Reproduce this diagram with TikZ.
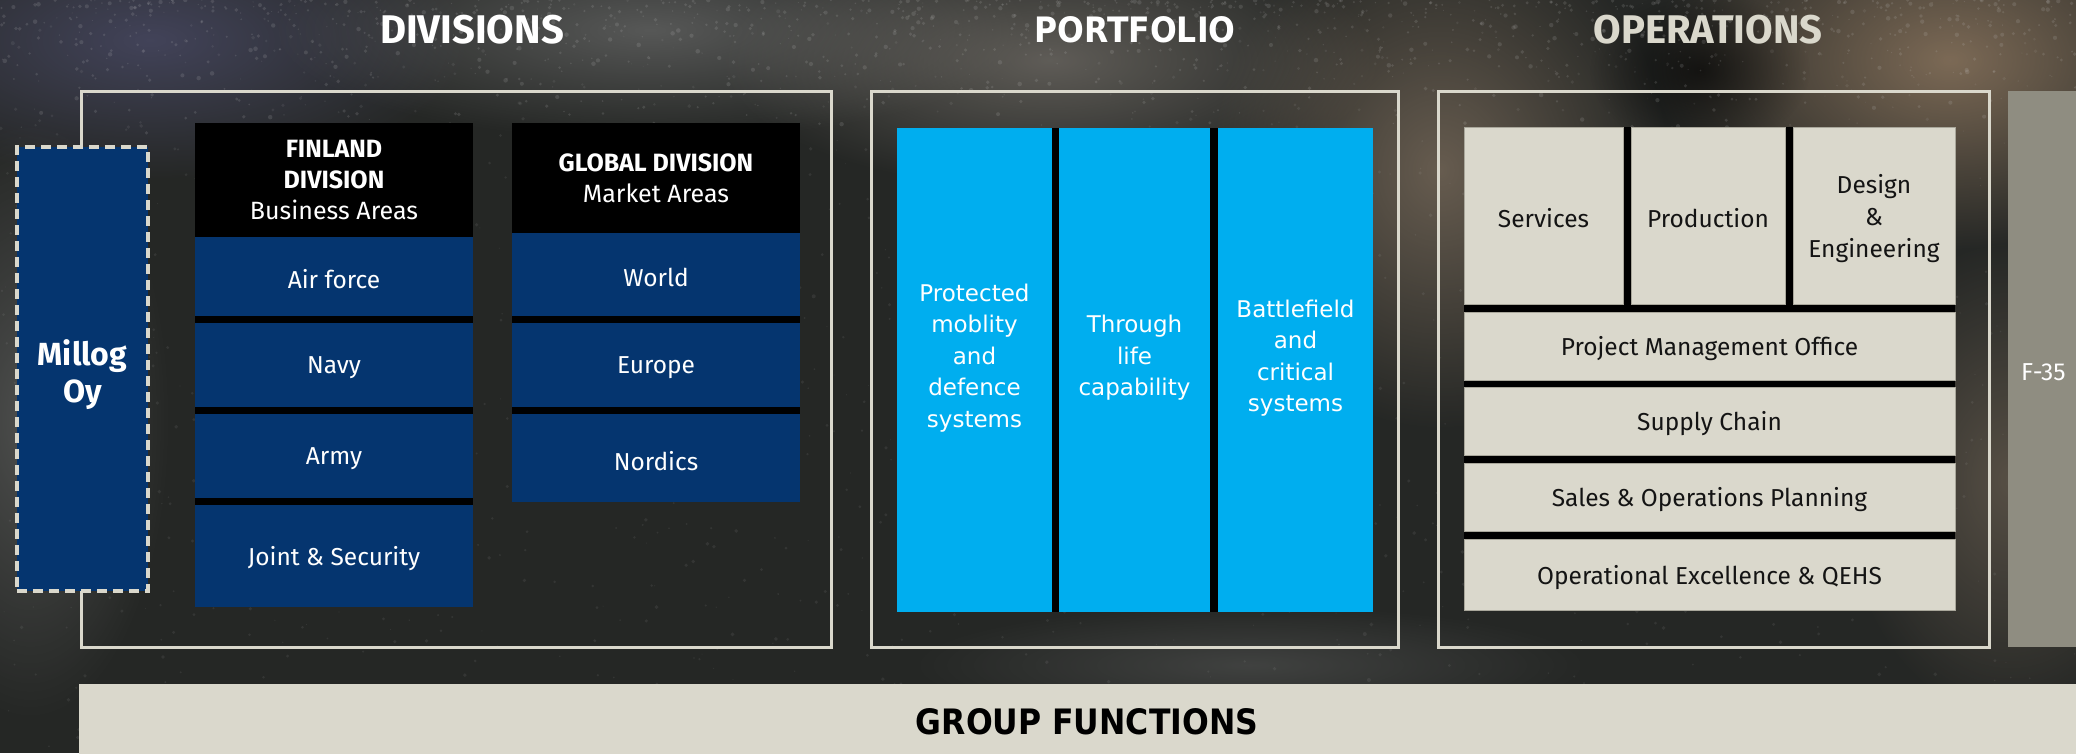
\documentclass[tikz,border=0pt]{standalone}
\usepackage{fontspec}
\setmainfont{Fira Sans}
\newfontfamily\widefont{DejaVu Sans}
\newfontfamily\widetitle{DejaVu Sans}[FakeStretch=0.9]
\usetikzlibrary{fit, fadings}

\definecolor{millogblue}{HTML}{05356F}
\definecolor{skyblue}{HTML}{00AEEF}
\definecolor{sand}{HTML}{DAD8CC}
\definecolor{sandedge}{HTML}{A9A79B}
\definecolor{stone}{HTML}{8F8D81}
\definecolor{rock}{HTML}{252725}
\definecolor{ink}{HTML}{141414}

\tikzfading[name=rockglow, inner color=transparent!0, outer color=transparent!100]

\begin{document}
\begin{tikzpicture}[x=1pt, y=-1pt,
  every node/.style = {inner sep=0pt, outer sep=0pt, align=center},
  title/.style = {font=\bfseries\fontsize{40}{40}\selectfont},
  widehead/.style = {font=\widetitle\bfseries\fontsize{35}{35}\selectfont},
  frame/.style = {draw=sand, line width=3pt},
  backdrop/.style = {fill=black},
  header/.style = {text=white, font=\fontsize{25}{31}\selectfont},
  bluecell/.style = {fill=millogblue},
  bluetext/.style = {yshift=-3pt, text=white, font=\fontsize{24.5}{31}\selectfont},
  skycell/.style = {fill=skyblue},
  skytext/.style = {text=white, font=\widefont\fontsize{23}{31.5}\selectfont},
  sandcell/.style = {fill=sand, draw=sandedge, line width=0.8pt},
  sandtext/.style = {yshift=-3pt, text=ink, font=\fontsize{24.5}{32}\selectfont},
  glow/.style = {fill=#1, path fading=rockglow}]

  \clip (0,0) rectangle (2076,753);

  % rock background
  \fill[rock] (0,0) rectangle (2076,753);
  \fill[glow=gray!80!blue, opacity=.45] (150,40) ellipse [x radius=320, y radius=140];
  \fill[glow=gray, opacity=.55] (650,30) ellipse [x radius=380, y radius=110];
  \fill[glow=gray!90!brown, opacity=.6] (1050,60) ellipse [x radius=330, y radius=130];
  \fill[glow=gray!70!brown, opacity=.6] (1440,170) ellipse [x radius=230, y radius=260];
  \fill[glow=gray!60!brown, opacity=.75] (1950,60) ellipse [x radius=300, y radius=190];
  \fill[glow=gray, opacity=.45] (30,420) ellipse [x radius=140, y radius=300];
  \fill[glow=gray!70!brown, opacity=.45] (2010,480) ellipse [x radius=170, y radius=240];
  \fill[glow=gray, opacity=.3] (1250,665) ellipse [x radius=340, y radius=60];
  \fill[glow=black, opacity=.6] (1700,70) ellipse [x radius=110, y radius=80];

  % grit
  \pgfmathsetseed{42}
  \foreach \k in {1,...,1400}{
    \pgfmathsetmacro{\px}{rnd*2076}
    \pgfmathsetmacro{\py}{rnd*753}
    \pgfmathsetmacro{\pr}{0.5+rnd*1.5}
    \fill[gray!40!white, opacity=.09] (\px,\py) circle [radius=\pr];
  }
  \foreach \k in {1,...,1200}{
    \pgfmathsetmacro{\px}{rnd*2076}
    \pgfmathsetmacro{\py}{rnd*rnd*170}
    \pgfmathsetmacro{\pr}{0.5+rnd*1.8}
    \fill[gray!40!white, opacity=.15] (\px,\py) circle [radius=\pr];
  }

  % column titles
  \node[title, text=white] (divtitle) at (472,30) {DIVISIONS};
  \node[widehead, text=white] (porttitle) at (1135,30) {PORTFOLIO};
  \node[title, text=sand] (optitle) at (1708,30) {OPERATIONS};

  % outer frames
  \node[frame, fit={(81,91) (831,647)}] (divframe) {};
  \node[frame, fit={(871,91) (1398,647)}] (portframe) {};
  \node[frame, fit={(1438,91) (1989,647)}] (opframe) {};

  % Millog Oy
  \node[fit={(17,147) (148,591)}, fill=millogblue, draw=sand, line width=4pt,
    dash pattern=on 10pt off 6pt,
    label={[yshift=-6pt, text=white, font=\bfseries\fontsize{32}{37}\selectfont]center:Millog\\Oy}] (millog) {};

  % Finland division
  \node[backdrop, fit={(195,123) (473,607)}] (finback) {};
  \node[fit={(195,123) (473,237)},
    label={[header]center:{\bfseries FINLAND}\\{\bfseries DIVISION}\\Business Areas}] (finhead) {};
  \node[bluecell, fit={(195,237) (473,316)}, label={[bluetext]center:Air force}] (airforce) {};
  \node[bluecell, fit={(195,323) (473,407)}, label={[bluetext]center:Navy}] (navy) {};
  \node[bluecell, fit={(195,414) (473,498)}, label={[bluetext]center:Army}] (army) {};
  \node[bluecell, fit={(195,505) (473,607)}, label={[bluetext]center:Joint \& Security}] (joint) {};

  % Global division
  \node[backdrop, fit={(512,123) (800,502)}] (globback) {};
  \node[fit={(512,123) (800,233)},
    label={[header]center:{\bfseries GLOBAL DIVISION}\\Market Areas}] (globhead) {};
  \node[bluecell, fit={(512,233) (800,316)}, label={[bluetext]center:World}] (world) {};
  \node[bluecell, fit={(512,323) (800,407)}, label={[bluetext]center:Europe}] (europe) {};
  \node[bluecell, fit={(512,414) (800,502)}, label={[bluetext]center:Nordics}] (nordics) {};

  % portfolio
  \node[backdrop, fit={(897,128) (1373,612)}] (portback) {};
  \node[skycell, fit={(897,128) (1052,612)}] (protected) {};
  \node[skycell, fit={(1059,128) (1210,612)}] (throughlife) {};
  \node[skycell, fit={(1218,128) (1373,612)}] (battlefield) {};
  \node[skytext] at ([yshift=12pt]protected.center)
    {Protected\\moblity\\and\\defence\\systems};
  \node[skytext] at ([yshift=12pt]throughlife.center)
    {Through\\life\\capability};
  \node[skytext] at ([yshift=12pt]battlefield.center)
    {Battlefield\\and\\critical\\systems};

  % operations
  \node[backdrop, fit={(1464,127) (1955,610)}] (opback) {};
  \node[sandcell, fit={(1464,127) (1623,304)}, label={[sandtext]center:Services}] (services) {};
  \node[sandcell, fit={(1631,127) (1785,304)}, label={[sandtext]center:Production}] (production) {};
  \node[sandcell, fit={(1793,127) (1955,304)}, label={[sandtext]center:Design\\\&\\Engineering}] (design) {};
  \node[sandcell, fit={(1464,312) (1955,380)}, label={[sandtext]center:Project Management Office}] (pmo) {};
  \node[sandcell, fit={(1464,387) (1955,455)}, label={[sandtext]center:Supply Chain}] (supply) {};
  \node[sandcell, fit={(1464,463) (1955,531)}, label={[sandtext]center:Sales \& Operations Planning}] (sop) {};
  \node[sandcell, fit={(1464,539) (1955,610)}, label={[sandtext]center:Operational Excellence \& QEHS}] (opex) {};

  % F-35 panel, runs off the right edge
  \node[fill=stone, fit={(2008,91) (2100,647)}] (fpanel) {};
  \node[anchor=west, text=white, font=\fontsize{24.5}{30}\selectfont] (fthirtyfive)
    at (2021,372) {F-35};

  % group functions band
  \node[fill=sand, fit={(79,684) (2100,760)}] (groupband) {};
  \node[widehead, text=black] (groupfn) at (1087,722) {GROUP FUNCTIONS};
\end{tikzpicture}
\end{document}
